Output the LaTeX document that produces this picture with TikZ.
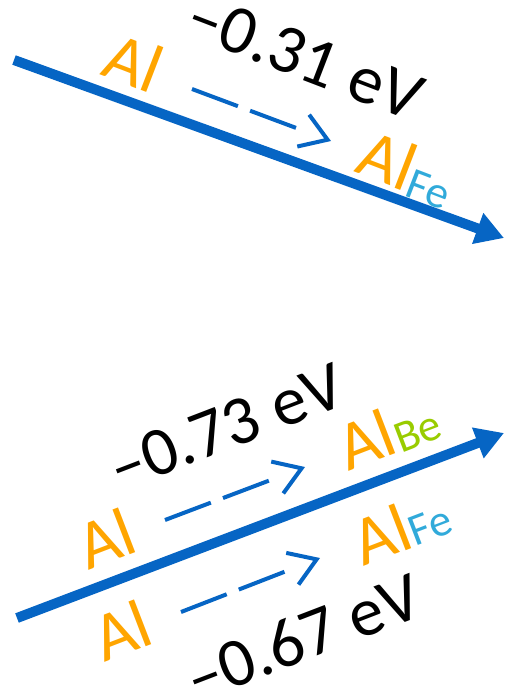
\documentclass[tikz,border=0pt]{standalone}
\usepackage{fontspec}
\setmainfont{Carlito}
\usetikzlibrary{arrows.meta}
\definecolor{alcol}{RGB}{255,165,0}
\definecolor{arrowblue}{RGB}{6,101,196}
\definecolor{fecol}{RGB}{49,170,218}
\definecolor{becol}{RGB}{153,204,0}
\newcommand\subel[3]{\raisebox{#1}{\fontsize{45}{54}\selectfont\color{#2}#3}}
\begin{document}
\begin{tikzpicture}[x=1pt,y=-1pt,
  lbl/.style={inner sep=0pt, font=\fontsize{69}{82}\selectfont, text=black},
  elem/.style={inner sep=0pt, font=\fontsize{69}{82}\selectfont, text=alcol},
  bigarrow/.style={draw=arrowblue, line width=10pt, -{Triangle[length=28pt,width=31pt]}},
  dasharrow/.style={draw=arrowblue, line width=4pt, dash pattern=on 49pt off 13pt on 49pt off 200pt, -{Straight Barb[length=26pt,width=34pt]}}]
\useasboundingbox (0,0) rectangle (504,694);
% top group
\coordinate (a1s) at (14,60);
\coordinate (a1e) at (504,238);
\draw[bigarrow] (a1s) -- (a1e);
\node[elem, rotate=-21] (al1) at (134,62) {Al};
\node[lbl, rotate=-21] (e1) at (305,57) {–0.31 eV};
\node[elem, rotate=-21] (alfe1) at (407,169) {Al\subel{-4pt}{fecol}{Fe}};
\coordinate (d1s) at (192,89);
\coordinate (d1e) at (331,141);
\draw[dasharrow] (d1s) -- (d1e);
% bottom group
\coordinate (a2s) at (17,618);
\coordinate (a2e) at (504,433);
\draw[bigarrow] (a2s) -- (a2e);
\node[lbl, rotate=21] (e2) at (226,427) {–0.73 eV};
\node[elem, rotate=21] (al2) at (106,538) {Al};
\node[elem, rotate=21] (albe) at (388,432) {Al\subel{-2pt}{becol}{Be}};
\node[elem, rotate=21] (alfe2) at (401,527) {Al\subel{0pt}{fecol}{Fe}};
\node[elem, rotate=21] (al3) at (122,630) {Al};
\node[lbl, rotate=21] (e3) at (303,637) {–0.67 eV};
\coordinate (d2s) at (165,520);
\coordinate (d2e) at (305,467);
\draw[dasharrow] (d2s) -- (d2e);
\coordinate (d3s) at (181,612);
\coordinate (d3e) at (320,558);
\draw[dasharrow] (d3s) -- (d3e);
\end{tikzpicture}
\end{document}
